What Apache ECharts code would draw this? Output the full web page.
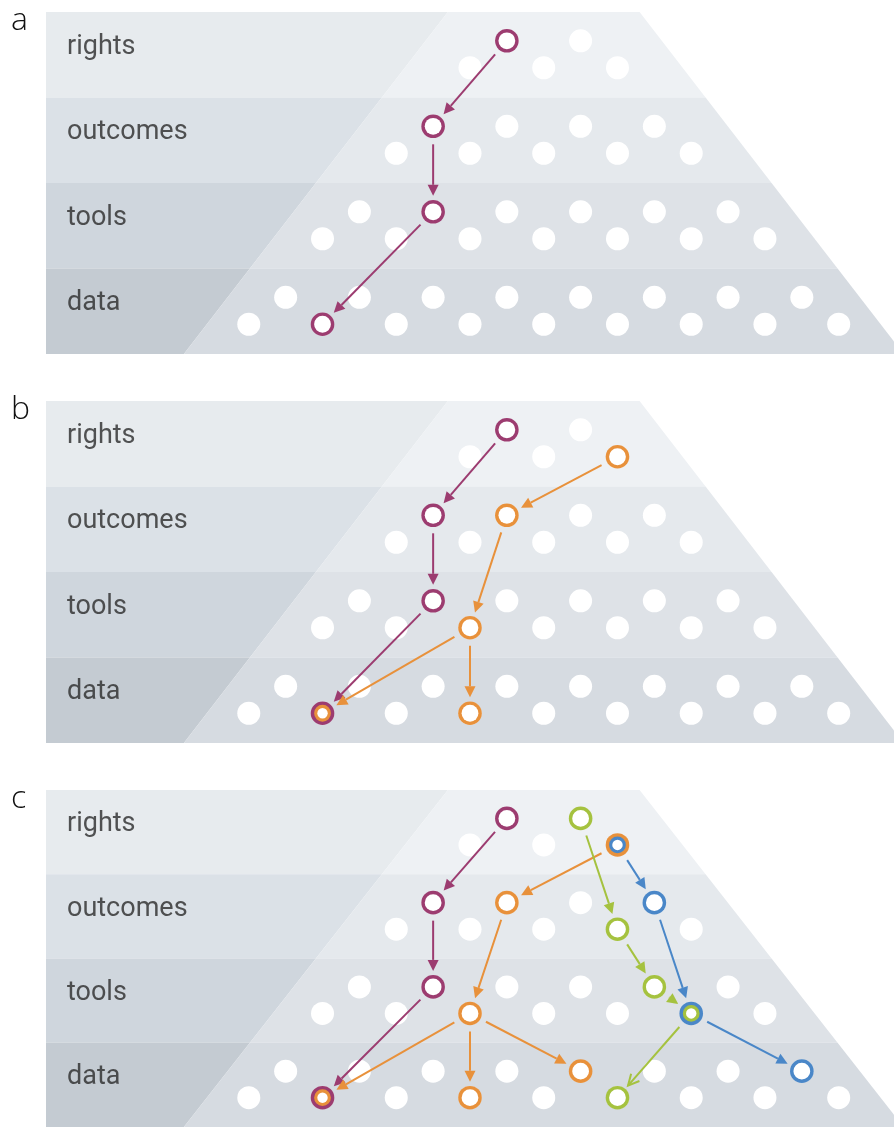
<!DOCTYPE html>
<html>
<head>
<meta charset="utf-8">
<script src="https://cdn.jsdelivr.net/npm/echarts@6/dist/echarts.min.js"></script>
<style>
  html, body { margin: 0; padding: 0; background: #fff; }
  #chart { width: 894px; height: 1127px; }
</style>
</head>
<body>
<div id="chart"></div>
<script>
  // layers of the pyramid, top to bottom
  const rows = ['rights', 'outcomes', 'tools', 'data'];
  const panels = ['a', 'b', 'c'];

  // dot columns in each layer (odd column = upper line, even = lower line)
  const rightsDots = [6, 7, 8, 9, 10];
  const outcomesDots = [4, 5, 6, 7, 8, 9, 10, 11, 12];
  const toolsDots = [2, 3, 4, 5, 6, 7, 8, 9, 10, 11, 12, 13, 14];
  const dataDots = [0, 1, 2, 3, 4, 5, 6, 7, 8, 9, 10, 11, 12, 13, 14, 15, 16];

  // edges: [fromCol, fromRow, toCol, toRow, openHead]
  const purpleEdges = [[7, 0, 5, 1], [5, 1, 5, 2], [5, 2, 2, 3]];
  const orangeEdgesB = [[10, 0, 7, 1], [7, 1, 6, 2], [6, 2, 2, 3], [6, 2, 6, 3]];
  const orangeEdgesC = [[10, 0, 7, 1], [7, 1, 6, 2], [6, 2, 2, 3], [6, 2, 6, 3], [6, 2, 9, 3]];
  const greenEdgesC = [[9, 0, 10, 1], [10, 1, 11, 2], [11, 2, 12, 2], [12, 2, 10, 3, 1]];
  const blueEdgesC = [[10, 0, 11, 1], [11, 1, 12, 2], [12, 2, 15, 3]];

  // ringed nodes: [col, row, outer colour, inner colour]
  const ringsA = [[7, 0, 'purple'], [5, 1, 'purple'], [5, 2, 'purple'], [2, 3, 'purple']];
  const ringsB = [[7, 0, 'purple'], [5, 1, 'purple'], [5, 2, 'purple'], [2, 3, 'purple', 'orange'],
    [10, 0, 'orange'], [7, 1, 'orange'], [6, 2, 'orange'], [6, 3, 'orange']];
  const ringsC = [[7, 0, 'purple'], [5, 1, 'purple'], [5, 2, 'purple'], [2, 3, 'purple', 'orange'],
    [10, 0, 'orange', 'blue'], [7, 1, 'orange'], [6, 2, 'orange'], [6, 3, 'orange'], [9, 3, 'orange'],
    [9, 0, 'green'], [10, 1, 'green'], [11, 2, 'green'], [10, 3, 'green'],
    [11, 1, 'blue'], [12, 2, 'blue', 'green'], [15, 3, 'blue']];

  const colors = { purple: '#9c3c70', orange: '#e8913b', green: '#a5c23f', blue: '#4a87c8' };
  const leftBand = ['#e7ebee', '#dbe1e7', '#cfd6dd', '#c4cbd2'];
  const trapBand = ['#eef1f4', '#e5e9ed', '#dee2e7', '#d6dbe1'];

  const upperOff = 0.337, lowerOff = 0.652;
  function nodePos(col, row) {
    return [col, row + (col % 2 ? upperOff : lowerOff)];
  }
  const leftEdge = y => 5.4 - 1.79 * y;
  const rightEdge = y => 10.6 + 1.79 * y;

  const panelTops = [12, 401, 790];
  const grids = panelTops.map(t => ({ left: 46, right: 0, top: t, height: 342 }));
  const xAxes = panelTops.map((t, i) => ({ type: 'value', gridIndex: i, min: -5.5, max: 17.5, show: false }));
  const yAxes = panelTops.map((t, i) => ({ type: 'value', gridIndex: i, min: 0, max: 4, inverse: true, show: false }));

  function bandItem(params, api) {
    const r = params.dataIndex;
    const c = p => api.coord(p);
    return {
      type: 'group',
      children: [
        { type: 'polygon', shape: { points: [c([-5.5, r]), c([leftEdge(r), r]), c([leftEdge(r + 1), r + 1]), c([-5.5, r + 1])] },
          style: { fill: leftBand[r] } },
        { type: 'polygon', shape: { points: [c([leftEdge(r), r]), c([rightEdge(r), r]), c([rightEdge(r + 1), r + 1]), c([leftEdge(r + 1), r + 1])] },
          style: { fill: trapBand[r] } }
      ]
    };
  }

  function arrowItem(color) {
    return function (params, api) {
      const p = api.coord([api.value(0), api.value(1)]);
      const q = api.coord([api.value(2), api.value(3)]);
      const dx = q[0] - p[0], dy = q[1] - p[1], len = Math.hypot(dx, dy);
      const ux = dx / len, uy = dy / len;
      const s = [p[0] + ux * 18, p[1] + uy * 18];
      const t = [q[0] - ux * 16, q[1] - uy * 16];
      const hl = 11, hw = 5.5;
      const base = [t[0] - ux * hl, t[1] - uy * hl];
      const l = [base[0] - uy * hw, base[1] + ux * hw];
      const rr = [base[0] + uy * hw, base[1] - ux * hw];
      const open = api.value(4) === 1;
      const end = open ? t : base;
      return {
        type: 'group',
        children: [
          { type: 'line', shape: { x1: s[0], y1: s[1], x2: end[0], y2: end[1] }, style: { stroke: color, lineWidth: 2 } },
          open
            ? { type: 'polyline', shape: { points: [l, t, rr] }, style: { stroke: color, lineWidth: 2, fill: null } }
            : { type: 'polygon', shape: { points: [l, t, rr] }, style: { fill: color } }
        ]
      };
    };
  }

  function ringItem(list) {
    return function (params, api) {
      const spec = list[params.dataIndex];
      const p = api.coord([api.value(0), api.value(1)]);
      const children = [{ type: 'circle', shape: { cx: p[0], cy: p[1], r: 11.8 }, style: { fill: colors[spec[2]] } }];
      if (spec[3]) {
        children.push({ type: 'circle', shape: { cx: p[0], cy: p[1], r: 8.4 }, style: { fill: colors[spec[3]] } });
        children.push({ type: 'circle', shape: { cx: p[0], cy: p[1], r: 5.2 }, style: { fill: '#fff' } });
      } else {
        children.push({ type: 'circle', shape: { cx: p[0], cy: p[1], r: 8.4 }, style: { fill: '#fff' } });
      }
      return { type: 'group', children };
    };
  }

  const allDots = [];
  [rightsDots, outcomesDots, toolsDots, dataDots].forEach((cols, r) => {
    cols.forEach(c => allDots.push(nodePos(c, r)));
  });

  const panelEdges = [
    [['purple', purpleEdges]],
    [['purple', purpleEdges], ['orange', orangeEdgesB]],
    [['purple', purpleEdges], ['orange', orangeEdgesC], ['green', greenEdgesC], ['blue', blueEdgesC]]
  ];
  const panelRings = [ringsA, ringsB, ringsC];

  const series = [];
  panels.forEach((name, i) => {
    series.push({
      type: 'custom', xAxisIndex: i, yAxisIndex: i, silent: true, z: 1,
      renderItem: bandItem, data: rows.map((r, k) => [k]), clip: false
    });
    series.push({
      type: 'scatter', xAxisIndex: i, yAxisIndex: i, silent: true, z: 2,
      symbol: 'circle', symbolSize: 23, itemStyle: { color: '#fff', opacity: 1 }, data: allDots
    });
    series.push({
      type: 'scatter', xAxisIndex: i, yAxisIndex: i, silent: true, z: 2,
      symbolSize: 0,
      label: {
        show: true, position: 'right', distance: 21,
        formatter: p => rows[p.dataIndex],
        fontFamily: 'Roboto', fontWeight: 400, fontSize: 27, color: '#2b2b2b'
      },
      data: rows.map((r, k) => [-5.5, k + 0.41])
    });
    panelEdges[i].forEach(([col, edges]) => {
      series.push({
        type: 'custom', xAxisIndex: i, yAxisIndex: i, silent: true, z: 3,
        renderItem: arrowItem(colors[col]),
        data: edges.map(e => [...nodePos(e[0], e[1]), ...nodePos(e[2], e[3]), e[4] || 0])
      });
    });
    series.push({
      type: 'custom', xAxisIndex: i, yAxisIndex: i, silent: true, z: 4,
      renderItem: ringItem(panelRings[i]),
      data: panelRings[i].map(n => nodePos(n[0], n[1]))
    });
  });

  const chart = echarts.init(document.getElementById('chart'), null, { renderer: 'canvas' });
  chart.setOption({
    animation: false,
    grid: grids,
    xAxis: xAxes,
    yAxis: yAxes,
    graphic: panels.map((name, i) => ({
      type: 'text', left: 11, top: panelTops[i] - 7, silent: true,
      style: { text: name, font: '300 32px "Open Sans"', fill: '#111' }
    })),
    series: series
  });
</script>
</body>
</html>
